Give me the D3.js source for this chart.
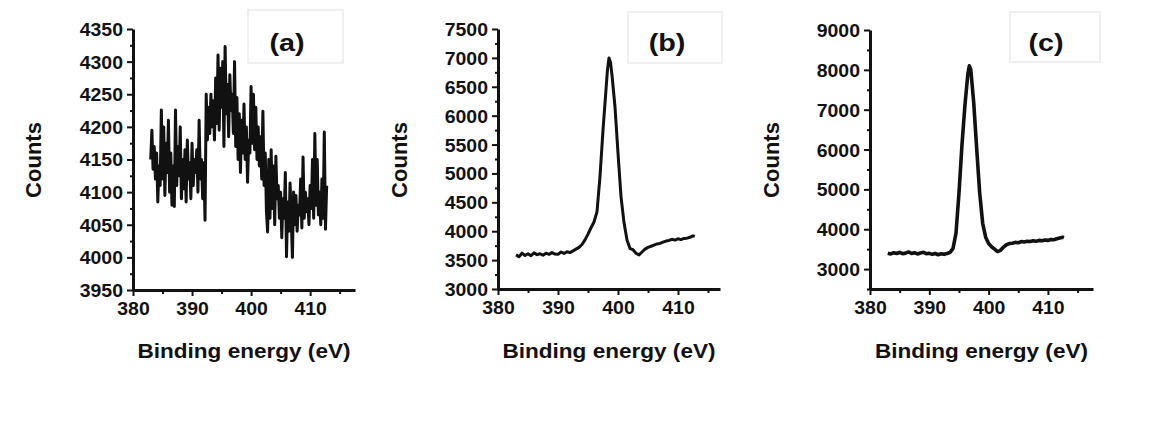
<!DOCTYPE html>
<html>
<head>
<meta charset="utf-8">
<script src="https://cdn.jsdelivr.net/npm/d3@7"></script>
<style>
  body { margin: 0; background: #fff; }
  svg { display: block; }
  text { font-family: Arial, "Liberation Sans", sans-serif; font-weight: bold; fill: #111; }
</style>
</head>
<body>
<svg id="chart" width="1163" height="425"></svg>
<script>
// (a) noisy N 1s region, uniform grid 383.0 .. 412.8 eV
const energyStartA = 383.0;
const energyStepA = 0.2;
const countsA = [
  4150, 4195, 4135, 4170, 4120, 4160, 4085, 4140, 4110, 4226,
  4120, 4200, 4095, 4175, 4130, 4210, 4100, 4160, 4080, 4140,
  4078, 4226, 4110, 4170, 4125, 4200, 4090, 4150, 4105, 4165,
  4085, 4180, 4120, 4145, 4090, 4175, 4110, 4150, 4130, 4165,
  4100, 4210, 4120, 4150, 4090, 4145, 4057, 4250, 4180, 4230,
  4190, 4250, 4200, 4240, 4180, 4275, 4205, 4310, 4195, 4290,
  4230, 4300, 4170, 4323, 4220, 4265, 4185, 4280, 4225, 4250,
  4190, 4300, 4170, 4245, 4150, 4220, 4130, 4210, 4160, 4235,
  4150, 4200, 4115, 4180, 4160, 4262, 4175, 4250, 4165, 4230,
  4150, 4200, 4140, 4185, 4120, 4224, 4110, 4160, 4070, 4039,
  4150, 4060, 4165, 4075, 4140, 4050, 4155, 4090, 4110, 4060,
  4100, 4030, 4090, 4060, 4130, 4001, 4085, 4040, 4114, 4060,
  4000, 4100, 4050, 4095, 4040, 4080, 4065, 4120, 4045, 4154,
  4060, 4100, 4070, 4090, 4050, 4110, 4075, 4150, 4060, 4190,
  4080, 4150, 4065, 4100, 4050, 4120, 4060, 4192, 4043, 4110
];

// (b)
const energyB = [
  383.0, 383.5, 384.0, 384.5, 385.0, 385.5, 386.0, 386.5, 387.0, 387.5,
  388.0, 388.5, 389.0, 389.5, 390.0, 390.5, 391.0, 391.5, 392.0, 392.5,
  393.0, 393.5, 394.0, 394.5, 395.0, 395.5, 396.0, 396.5, 397.0, 397.5,
  398.0, 398.25, 398.5, 398.75, 399.0, 399.5, 400.0, 400.5, 401.0, 401.5,
  402.0, 402.5, 403.0, 403.5, 404.0, 404.5, 405.0, 405.5, 406.0, 406.5,
  407.0, 407.5, 408.0, 408.5, 409.0, 409.5, 410.0, 410.5, 411.0, 411.5,
  412.0, 412.5, 412.8
];
const countsB = [
  3590, 3560, 3620, 3580, 3610, 3575, 3625, 3595, 3610, 3585,
  3620, 3600, 3630, 3605, 3600, 3640, 3615, 3645, 3630, 3660,
  3690, 3720, 3770, 3850, 3950, 4060, 4160, 4340, 4950, 5750,
  6450, 6800, 7000, 6920, 6700, 6150, 5350, 4600, 4150, 3850,
  3700, 3680, 3620, 3590, 3640, 3690, 3720, 3740, 3760, 3780,
  3790, 3810, 3830, 3840, 3860, 3845, 3870, 3855, 3875, 3880,
  3895, 3920, 3910
];

// (c)
const energyC = [
  383.0, 383.5, 384.0, 384.5, 385.0, 385.5, 386.0, 386.5, 387.0, 387.5,
  388.0, 388.5, 389.0, 389.5, 390.0, 390.5, 391.0, 391.5, 392.0, 392.5,
  393.0, 393.5, 394.0, 394.5, 395.0, 395.5, 396.0, 396.5, 396.75, 397.0,
  397.5, 398.0, 398.5, 399.0, 399.5, 400.0, 400.5, 401.0, 401.5, 402.0,
  402.5, 403.0, 403.5, 404.0, 404.5, 405.0, 405.5, 406.0, 406.5, 407.0,
  407.5, 408.0, 408.5, 409.0, 409.5, 410.0, 410.5, 411.0, 411.5, 412.0,
  412.5, 412.7
];
const countsC = [
  3400, 3380, 3410, 3390, 3420, 3385, 3400, 3430, 3390, 3410,
  3380, 3405, 3420, 3385, 3395, 3370, 3390, 3360, 3385, 3370,
  3390, 3420, 3520, 3900, 4900, 6100, 7100, 7900, 8100, 8000,
  7150, 6000, 4900, 4150, 3800, 3640, 3560, 3500, 3440, 3470,
  3550, 3610, 3640, 3650, 3670, 3660, 3690, 3680, 3700, 3690,
  3710, 3700, 3720, 3710, 3730, 3720, 3740, 3735, 3760, 3780,
  3800, 3790
];

const xTicks = [380, 390, 400, 410];
const xMinorTicks = [385, 395, 405, 415];
const ticksA = [3950, 4000, 4050, 4100, 4150, 4200, 4250, 4300, 4350];
const ticksB = [3000, 3500, 4000, 4500, 5000, 5500, 6000, 6500, 7000, 7500];
const ticksC = [3000, 4000, 5000, 6000, 7000, 8000, 9000];

const labels = ['(a)', '(b)', '(c)'];
const xTitle = 'Binding energy (eV)';
const yTitle = 'Counts';

const energyA = countsA.map((_, i) => +(energyStartA + i * energyStepA).toFixed(1));

const panels = [
  { label: labels[0], energy: energyA, counts: countsA, ticks: ticksA, minorStep: 25,
    x0: 133, x1: 355, yTop: 29, yBot: 290, xMax: 417.6, yDom: [3950, 4350], lw: 3,
    box: [248, 10, 95, 53], labelX: 287, yTitleX: 33 },
  { label: labels[1], energy: energyB, counts: countsB, ticks: ticksB, minorStep: 250,
    x0: 498, x1: 720, yTop: 29, yBot: 289, xMax: 417, yDom: [3000, 7500], lw: 3,
    box: [628, 12, 94, 51], labelX: 667, yTitleX: 399 },
  { label: labels[2], energy: energyC, counts: countsC, ticks: ticksC, minorStep: 500,
    x0: 870, x1: 1093, yTop: 30, yBot: 289, xMax: 417.6, yDom: [2500, 9000], lw: 3.6,
    box: [1010, 12, 90, 50], labelX: 1046, yTitleX: 771 }
];

const svg = d3.select('#chart');

// stretch text horizontally a bit, the source figure is wider than plain Arial
function widen(sel, k) {
  sel.each(function() {
    const w = this.getComputedTextLength();
    d3.select(this).attr('textLength', w * k).attr('lengthAdjust', 'spacingAndGlyphs');
  });
}

panels.forEach(p => {
  const g = svg.append('g');
  const x = d3.scaleLinear().domain([380, p.xMax]).range([p.x0, p.x1]);
  const y = d3.scaleLinear().domain(p.yDom).range([p.yBot, p.yTop]);

  // label box
  g.append('rect')
    .attr('x', p.box[0]).attr('y', p.box[1])
    .attr('width', p.box[2]).attr('height', p.box[3])
    .attr('fill', '#fff').attr('stroke', '#e6e6e6').attr('stroke-width', 1.2);
  g.append('text')
    .attr('x', p.labelX).attr('y', 51)
    .attr('text-anchor', 'middle').attr('font-size', 23)
    .text(p.label)
    .call(widen, 1.25);

  // curve
  const line = d3.line().x(d => x(d[0])).y(d => y(d[1]));
  g.append('path')
    .datum(p.energy.map((e, i) => [e, p.counts[i]]))
    .attr('d', line)
    .attr('fill', 'none').attr('stroke', '#111')
    .attr('stroke-width', p.lw).attr('stroke-linejoin', 'round');

  // minor ticks
  const minorY = d3.range(p.yDom[0], p.yDom[1] + 1, p.minorStep).filter(v => !p.ticks.includes(v));
  g.append('g').attr('transform', `translate(${p.x0},0)`)
    .call(d3.axisLeft(y).tickValues(minorY).tickSize(3).tickFormat(''))
    .call(a => a.select('.domain').remove())
    .call(a => a.selectAll('line').attr('stroke', '#111').attr('stroke-width', 2));
  g.append('g').attr('transform', `translate(0,${p.yBot})`)
    .call(d3.axisBottom(x).tickValues(xMinorTicks).tickSize(4).tickFormat(''))
    .call(a => a.select('.domain').remove())
    .call(a => a.selectAll('line').attr('stroke', '#111').attr('stroke-width', 2));

  // y axis
  const ya = g.append('g').attr('transform', `translate(${p.x0},0)`)
    .call(d3.axisLeft(y).tickValues(p.ticks).tickFormat(d3.format('d'))
      .tickSize(6).tickSizeOuter(0).tickPadding(4));
  ya.select('.domain').attr('stroke', '#111').attr('stroke-width', 3);
  ya.selectAll('line').attr('stroke', '#111').attr('stroke-width', 2);
  ya.selectAll('text').attr('font-size', 18).attr('fill', '#111').attr('dy', '0.36em')
    .style('font-family', 'Arial, "Liberation Sans", sans-serif').style('font-weight', 'bold')
    .call(widen, 1.08);

  // x axis
  const xa = g.append('g').attr('transform', `translate(0,${p.yBot})`)
    .call(d3.axisBottom(x).tickValues(xTicks).tickFormat(d3.format('d'))
      .tickSize(6).tickSizeOuter(0).tickPadding(6));
  xa.select('.domain').attr('stroke', '#111').attr('stroke-width', 3);
  xa.selectAll('line').attr('stroke', '#111').attr('stroke-width', 2);
  xa.selectAll('text').attr('font-size', 18).attr('fill', '#111')
    .style('font-family', 'Arial, "Liberation Sans", sans-serif').style('font-weight', 'bold')
    .call(widen, 1.08);

  // titles
  g.append('text')
    .attr('x', (p.x0 + p.x1) / 2).attr('y', 358)
    .attr('text-anchor', 'middle').attr('font-size', 20.5)
    .text(xTitle)
    .call(widen, 1.1);
  g.append('text')
    .attr('transform', `translate(${p.yTitleX + 8},160) rotate(-90)`)
    .attr('text-anchor', 'middle').attr('font-size', 22)
    .text(yTitle);
});
</script>
</body>
</html>
